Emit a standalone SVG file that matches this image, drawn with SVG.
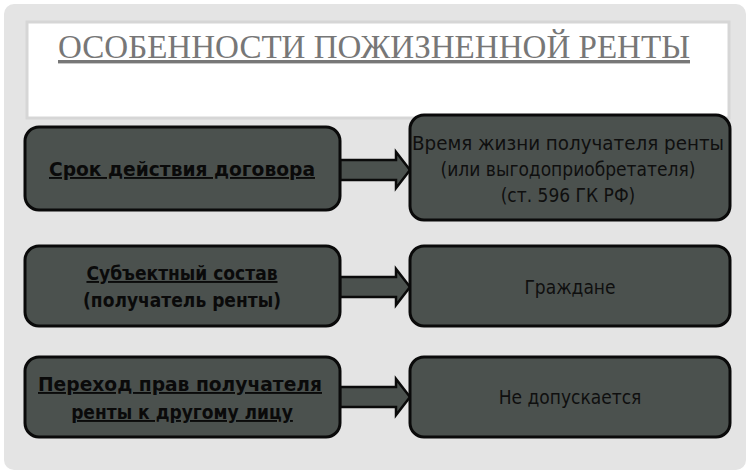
<svg xmlns="http://www.w3.org/2000/svg" width="750" height="472" viewBox="0 0 750 472">
<style>
.box{fill:#4b514e;stroke:#0a0a0a;stroke-width:3}
.arr{fill:#4b514e;stroke:#0a0a0a;stroke-width:2.5;stroke-linejoin:miter}
.l{font-family:"DejaVu Sans Condensed","DejaVu Sans",sans-serif;font-weight:bold;font-size:19px;fill:#0a0a0a;text-anchor:middle}
.u{text-decoration:underline}
.r{font-family:"DejaVu Sans Condensed","DejaVu Sans",sans-serif;font-size:19px;fill:#0f0f0f;text-anchor:middle}
</style>
<rect x="0" y="0" width="750" height="472" fill="#ffffff"/>
<rect x="4" y="4" width="742" height="466" rx="10" fill="#e4e4e4"/>
<rect x="27" y="22" width="702" height="96" fill="#ffffff" stroke="#d6d6d6" stroke-width="3"/>
<text x="374" y="58" font-family="'Liberation Serif',serif" font-size="34" fill="#777" text-anchor="middle" text-decoration="underline" textLength="632" lengthAdjust="spacingAndGlyphs">ОСОБЕННОСТИ ПОЖИЗНЕННОЙ РЕНТЫ</text>
<g id="connectors">
<path class="arr" d="M340 160H396V152L410 170L396 188V180H340Z"/>
<path class="arr" d="M340 277H396V269L410 287L396 305V297H340Z"/>
<path class="arr" d="M340 387H396V379L410 397L396 415V407H340Z"/>
</g>
<g id="n1"><rect class="box" x="25" y="127" width="315" height="83" rx="14"/><text class="l u" x="182" y="176" textLength="266" lengthAdjust="spacingAndGlyphs">Срок действия договора</text></g>
<g id="n2"><rect class="box" x="410" y="115" width="320" height="105" rx="14"/><text class="r" x="568" y="150" textLength="312" lengthAdjust="spacingAndGlyphs">Время жизни получателя ренты</text><text class="r" x="568" y="176">(или выгодоприобретателя)</text><text class="r" x="568" y="202">(ст. 596 ГК РФ)</text></g>
<g id="n3"><rect class="box" x="25" y="246" width="315" height="80" rx="14"/><text class="l u" x="182" y="280">Субъектный состав</text><text class="l" x="182" y="307">(получатель ренты)</text></g>
<g id="n4"><rect class="box" x="410" y="246" width="320" height="80" rx="14"/><text class="r" x="570" y="294">Граждане</text></g>
<g id="n5"><rect class="box" x="25" y="357" width="315" height="80" rx="14"/><text class="l u" x="180" y="391" textLength="284" lengthAdjust="spacingAndGlyphs">Переход прав получателя</text><text class="l u" x="182" y="419">ренты к другому лицу</text></g>
<g id="n6"><rect class="box" x="410" y="357" width="320" height="80" rx="14"/><text class="r" x="570" y="404">Не допускается</text></g>
</svg>
